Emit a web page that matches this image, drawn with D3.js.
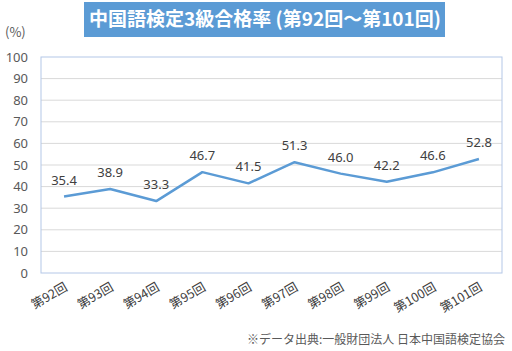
<meta charset="utf-8">
<script src="https://d3js.org/d3.v7.min.js"></script>
<style>
  body { margin: 0; background: #fff; }
  text { font-family: "Noto Sans CJK JP", "Noto Sans", sans-serif; }
</style>
<div id="chart"></div>
<script>
const rounds = ["第92回", "第93回", "第94回", "第95回", "第96回", "第97回", "第98回", "第99回", "第100回", "第101回"]
const passRate = [35.4, 38.9, 33.3, 46.7, 41.5, 51.3, 46.0, 42.2, 46.6, 52.8]
const yTicks = [0, 10, 20, 30, 40, 50, 60, 70, 80, 90, 100]

const width = 512, height = 351
const margin = {top: 57, right: 10, bottom: 78, left: 41}
const blue = "#5b9bd5"

const svg = d3.select("#chart").append("svg")
  .attr("width", width)
  .attr("height", height)

const x = d3.scaleBand()
  .domain(rounds)
  .range([margin.left, width - margin.right])
  .padding(0)

const y = d3.scaleLinear()
  .domain([0, 100])
  .range([height - margin.bottom, margin.top])

// title box
svg.append("rect")
  .attr("x", 84).attr("y", 2)
  .attr("width", 361).attr("height", 35)
  .attr("fill", blue)
svg.append("text")
  .attr("x", 265).attr("y", 26)
  .attr("text-anchor", "middle")
  .attr("fill", "#fff")
  .style("font-size", "19px")
  .style("font-weight", "bold")
  .text("中国語検定3級合格率 (第92回〜第101回)")

svg.append("text")
  .attr("x", 5).attr("y", 37)
  .attr("fill", "#595959")
  .style("font-size", "13px")
  .text("(%)")

// gridlines
svg.append("g")
  .selectAll("line")
  .data(yTicks.filter(d => d > 0 && d < 100))
  .join("line")
  .attr("x1", margin.left).attr("x2", width - margin.right)
  .attr("y1", d => y(d)).attr("y2", d => y(d))
  .attr("stroke", "#d9d9d9")
  .attr("stroke-width", 1)

// plot frame
svg.append("rect")
  .attr("x", margin.left).attr("y", margin.top)
  .attr("width", width - margin.right - margin.left)
  .attr("height", y(0) - y(100))
  .attr("fill", "none")
  .attr("stroke", "#b4c7e7")
  .attr("stroke-width", 1)

// y axis
const yAxis = svg.append("g")
  .attr("transform", "translate(" + margin.left + ",0)")
  .call(d3.axisLeft(y).tickValues(yTicks).tickSize(0).tickPadding(13))
yAxis.select(".domain").remove()
yAxis.selectAll("text")
  .attr("fill", "#595959")
  .style("font-size", "13px")
  .style("font-family", "'Noto Sans', sans-serif")

// x axis
const xAxis = svg.append("g")
  .attr("transform", "translate(0," + y(0) + ")")
  .call(d3.axisBottom(x).tickSize(0))
xAxis.select(".domain").remove()
xAxis.selectAll("text")
  .attr("fill", "#404040")
  .style("font-size", "12.5px")
  .attr("text-anchor", "end")
  .attr("transform", "translate(2,13) rotate(-30)")
  .attr("y", 0).attr("dy", "0.35em")

// line
const pts = rounds.map((r, i) => ({r: r, v: passRate[i]}))
svg.append("path")
  .datum(pts)
  .attr("fill", "none")
  .attr("stroke", blue)
  .attr("stroke-width", 2.5)
  .attr("stroke-linejoin", "round")
  .attr("d", d3.line()
    .x(d => x(d.r) + x.bandwidth() / 2)
    .y(d => y(d.v)))

// data labels
svg.append("g")
  .selectAll("text")
  .data(pts)
  .join("text")
  .attr("x", d => x(d.r) + x.bandwidth() / 2)
  .attr("y", d => y(d.v) - 12)
  .attr("text-anchor", "middle")
  .attr("fill", "#404040")
  .style("font-size", "13px")
  .style("font-family", "'Noto Sans', sans-serif")
  .text(d => d.v.toFixed(1))

svg.append("text")
  .attr("x", 505).attr("y", 344)
  .attr("text-anchor", "end")
  .attr("fill", "#595959")
  .style("font-size", "12px")
  .text("※データ出典:一般財団法人 日本中国語検定協会")
</script>
